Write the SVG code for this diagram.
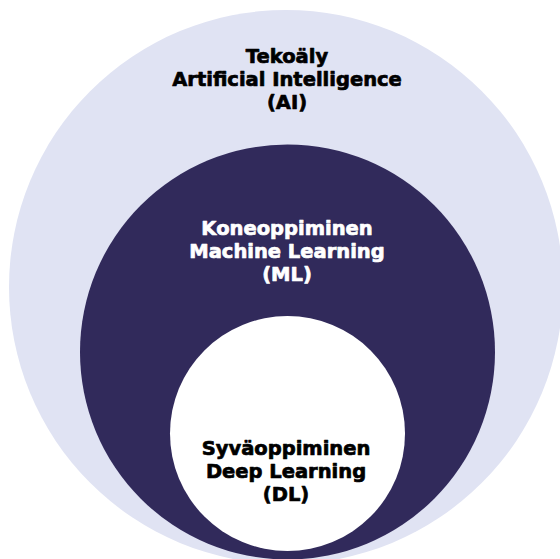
<svg xmlns="http://www.w3.org/2000/svg" width="560" height="559" viewBox="0 0 560 559">
  <style>
    .lbl { font-family: "DejaVu Sans", "Liberation Sans", Arial, sans-serif; font-weight: bold; font-size: 19.5px; text-anchor: middle; stroke-width: 0.7px; stroke-linejoin: round; }
    .dark { fill: #000000; stroke: #000000; }
    .light { fill: #ffffff; stroke: #ffffff; }
  </style>
  <rect x="0" y="0" width="560" height="559" fill="#ffffff"/>
  <g id="ai">
    <circle cx="286" cy="287" r="277" fill="#e0e3f3"/>
    <text class="lbl dark" x="287" y="63">Tekoäly</text>
    <text class="lbl dark" x="287" y="86">Artificial Intelligence</text>
    <text class="lbl dark" x="287" y="109">(AI)</text>
  </g>
  <g id="ml">
    <circle cx="287.5" cy="352" r="207.5" fill="#312a5b"/>
    <text class="lbl light" x="287" y="235">Koneoppiminen</text>
    <text class="lbl light" x="287" y="258">Machine Learning</text>
    <text class="lbl light" x="287" y="281">(ML)</text>
  </g>
  <g id="dl">
    <circle cx="287.5" cy="433.5" r="117.5" fill="#ffffff"/>
    <text class="lbl dark" x="286" y="455">Syväoppiminen</text>
    <text class="lbl dark" x="286" y="478">Deep Learning</text>
    <text class="lbl dark" x="286" y="501">(DL)</text>
  </g>
  <g id="connectors"/>
</svg>
